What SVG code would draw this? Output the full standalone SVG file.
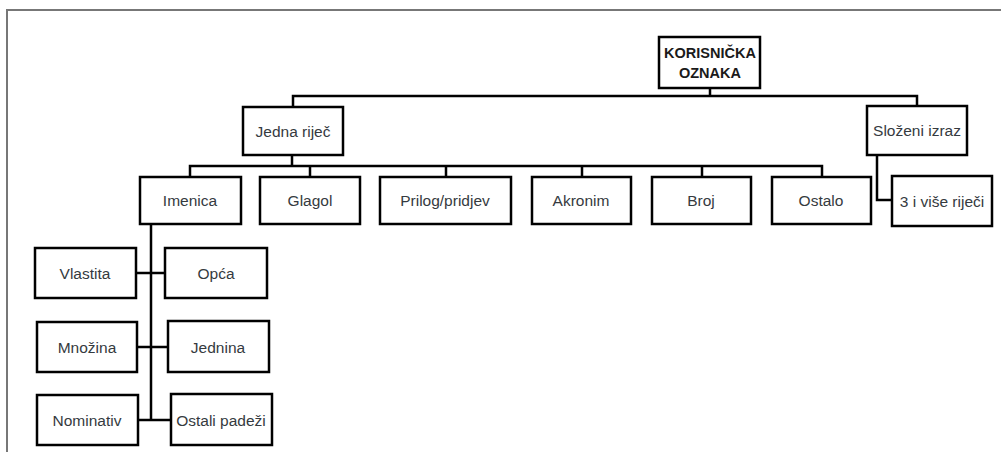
<svg xmlns="http://www.w3.org/2000/svg" width="1001" height="452" viewBox="0 0 1001 452">
<style>
.box{fill:#fff;stroke:#000;stroke-width:2.5}
.t{font-family:"Liberation Sans",Arial,sans-serif;font-size:15.5px;fill:#353a40;text-anchor:middle;dominant-baseline:central}
.b{font-family:"Liberation Sans",Arial,sans-serif;font-size:14.5px;font-weight:bold;fill:#1a1a1a;text-anchor:middle}
.c{fill:none;stroke:#000;stroke-width:2.5}
</style>
<rect width="1001" height="452" fill="#fff"/>
<path d="M7 452 V10 H1001" fill="none" stroke="#777" stroke-width="2"/>
<g id="connectors" class="c">
<path d="M710 88 V96 M293 107 V96 H917 V106"/>
<path d="M292 155 V166 M190 177 V166 H822 V177 M310 166 V177 M446 166 V177 M582 166 V177 M702 166 V177"/>
<path d="M877 155 V200 H892"/>
<path d="M151 224 V420 M136 273 H165 M137 347 H168 M138 420 H171"/>
</g>
<g id="root"><rect class="box" x="659" y="37" width="101" height="51"/><text class="b" x="710" y="58">KORISNIČKA</text><text class="b" x="710" y="78">OZNAKA</text></g>
<g id="jedna"><rect class="box" x="243" y="107" width="100" height="48"/><text class="t" x="293" y="131">Jedna riječ</text></g>
<g id="slozeni"><rect class="box" x="867" y="106" width="100" height="49"/><text class="t" x="917" y="130">Složeni izraz</text></g>
<g id="imenica"><rect class="box" x="140" y="177" width="101" height="47"/><text class="t" x="190" y="200">Imenica</text></g>
<g id="glagol"><rect class="box" x="260" y="177" width="100" height="47"/><text class="t" x="310" y="200">Glagol</text></g>
<g id="prilog"><rect class="box" x="380" y="177" width="131" height="47"/><text class="t" x="445" y="200">Prilog/pridjev</text></g>
<g id="akronim"><rect class="box" x="532" y="177" width="99" height="47"/><text class="t" x="581" y="200">Akronim</text></g>
<g id="broj"><rect class="box" x="652" y="177" width="99" height="47"/><text class="t" x="701" y="200">Broj</text></g>
<g id="ostalo"><rect class="box" x="772" y="177" width="99" height="47"/><text class="t" x="821" y="200">Ostalo</text></g>
<g id="tri"><rect class="box" x="892" y="176" width="100" height="50"/><text class="t" x="942" y="201">3 i više riječi</text></g>
<g id="vlastita"><rect class="box" x="35" y="248" width="101" height="50"/><text class="t" x="85" y="273">Vlastita</text></g>
<g id="opca"><rect class="box" x="165" y="248" width="102" height="50"/><text class="t" x="216" y="273">Opća</text></g>
<g id="mnozina"><rect class="box" x="37" y="322" width="100" height="50"/><text class="t" x="87" y="347">Množina</text></g>
<g id="jednina"><rect class="box" x="168" y="321" width="101" height="51"/><text class="t" x="218" y="347">Jednina</text></g>
<g id="nominativ"><rect class="box" x="37" y="395" width="101" height="50"/><text class="t" x="87" y="420">Nominativ</text></g>
<g id="ostali"><rect class="box" x="171" y="394" width="101" height="51"/><text class="t" x="221" y="420">Ostali padeži</text></g>
</svg>
